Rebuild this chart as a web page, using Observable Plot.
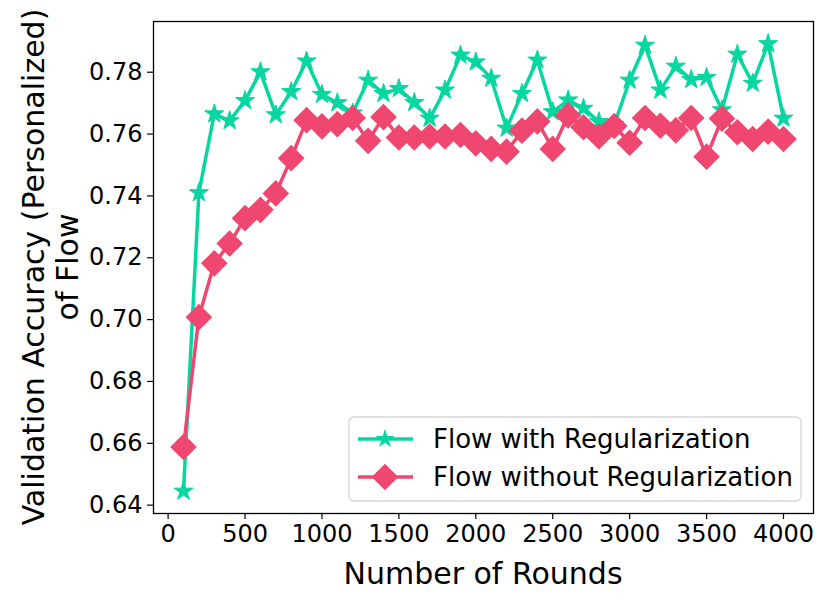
<!DOCTYPE html>
<html>
<head>
<meta charset="utf-8">
<script src="https://cdn.jsdelivr.net/npm/d3@7"></script>
<script src="https://cdn.jsdelivr.net/npm/@observablehq/plot@0.6"></script>
<style>
  html, body { margin: 0; padding: 0; background: white; }
  #chart { width: 830px; height: 602px; }
</style>
</head>
<body>
<div id="chart"></div>
<script>
const rounds = [100, 200, 300, 400, 500, 600, 700, 800, 900, 1000,
  1100, 1200, 1300, 1400, 1500, 1600, 1700, 1800, 1900, 2000,
  2100, 2200, 2300, 2400, 2500, 2600, 2700, 2800, 2900, 3000,
  3100, 3200, 3300, 3400, 3500, 3600, 3700, 3800, 3900, 4000];
const withReg = [0.6445, 0.7410, 0.7665, 0.7643, 0.7708, 0.7801, 0.7662, 0.7737, 0.7836, 0.7728,
  0.7701, 0.7668, 0.7774, 0.7731, 0.7747, 0.7702, 0.7651, 0.7742, 0.7855, 0.7833,
  0.7780, 0.7619, 0.7731, 0.7839, 0.7672, 0.7710, 0.7683, 0.7640, 0.7630, 0.7774,
  0.7887, 0.7742, 0.7819, 0.7776, 0.7783, 0.7678, 0.7858, 0.7764, 0.7892, 0.7651];
const withoutReg = [0.6588, 0.7008, 0.7182, 0.7246, 0.7328, 0.7355, 0.7408, 0.7522, 0.7645, 0.7625,
  0.7632, 0.7652, 0.7578, 0.7655, 0.7589, 0.7589, 0.7592, 0.7592, 0.7597, 0.7570,
  0.7552, 0.7543, 0.7611, 0.7641, 0.7552, 0.7660, 0.7622, 0.7592, 0.7626, 0.7572,
  0.7652, 0.7627, 0.7612, 0.7652, 0.7527, 0.7650, 0.7606, 0.7584, 0.7608, 0.7584];
const seriesNames = ["Flow with Regularization", "Flow without Regularization"];
const seriesColors = ["#06D6A0", "#EF476F"];
const xTicks = [0, 500, 1000, 1500, 2000, 2500, 3000, 3500, 4000];
const yTicks = [0.64, 0.66, 0.68, 0.70, 0.72, 0.74, 0.76, 0.78];
const xTitle = "Number of Rounds";
const yTitleLines = ["Validation Accuracy (Personalized)", "of Flow"];

const rowsA = rounds.map((r, i) => ({round: r, acc: withReg[i]}));
const rowsB = rounds.map((r, i) => ({round: r, acc: withoutReg[i]}));

const starR = 6, diamondR = 12;
const font = "'DejaVu Sans', sans-serif";

const chart = Plot.plot({
  width: 830,
  height: 602,
  marginLeft: 153,
  marginRight: 17,
  marginTop: 21,
  marginBottom: 89,
  style: {fontFamily: font, fontSize: "24px", color: "black", background: "white", overflow: "visible"},
  x: {domain: [-95, 4195], label: null},
  y: {domain: [0.6373, 0.7964], label: null},
  marks: [
    Plot.axisX({ticks: xTicks, tickSize: 6, tickPadding: 5, tickFormat: d => String(d), label: null, strokeWidth: 1.2}),
    Plot.axisY({ticks: yTicks, tickSize: 6, tickPadding: 5, tickFormat: d => d.toFixed(2), label: null, strokeWidth: 1.2}),
    Plot.line(rowsA, {x: "round", y: "acc", stroke: seriesColors[0], strokeWidth: 3.5}),
    Plot.dot(rowsA, {x: "round", y: "acc", symbol: "star", r: starR, fill: seriesColors[0], stroke: seriesColors[0], strokeWidth: 1}),
    Plot.line(rowsB, {x: "round", y: "acc", stroke: seriesColors[1], strokeWidth: 3.5}),
    Plot.dot(rowsB, {x: "round", y: "acc", symbol: "diamond2", r: diamondR, fill: seriesColors[1]}),
    Plot.frame({stroke: "black", strokeWidth: 1.3})
  ]
});

document.getElementById("chart").appendChild(chart);

const svg = d3.select(chart);

// axis titles
svg.append("text")
  .attr("x", 483).attr("y", 584)
  .attr("text-anchor", "middle")
  .attr("font-family", font).attr("font-size", 30).attr("fill", "black")
  .text(xTitle);

const yT = svg.append("g").attr("transform", "translate(0,267)");
yT.append("text")
  .attr("transform", "translate(44,0) rotate(-90)")
  .attr("text-anchor", "middle")
  .attr("font-family", font).attr("font-size", 30).attr("fill", "black")
  .text(yTitleLines[0]);
yT.append("text")
  .attr("transform", "translate(78,0) rotate(-90)")
  .attr("text-anchor", "middle")
  .attr("font-family", font).attr("font-size", 30).attr("fill", "black")
  .text(yTitleLines[1]);

// legend
const lg = svg.append("g");
lg.append("rect")
  .attr("x", 349).attr("y", 417).attr("width", 452).attr("height", 84)
  .attr("rx", 5).attr("fill", "white").attr("fill-opacity", 0.85)
  .attr("stroke", "#d6d6d6").attr("stroke-width", 1.3);
const symbols = [d3.symbolStar, d3.symbolDiamond2];
const radii = [starR, diamondR];
seriesNames.forEach((name, i) => {
  const cy = 439 + i * 38;
  lg.append("line").attr("x1", 358).attr("x2", 413).attr("y1", cy).attr("y2", cy)
    .attr("stroke", seriesColors[i]).attr("stroke-width", 3.5);
  lg.append("path")
    .attr("d", d3.symbol(symbols[i], Math.PI * radii[i] * radii[i])())
    .attr("transform", `translate(385,${cy})`)
    .attr("fill", seriesColors[i]);
  lg.append("text")
    .attr("x", 433).attr("y", cy + 9)
    .attr("text-anchor", "start")
    .attr("font-family", font).attr("font-size", 26).attr("fill", "black")
    .text(name);
});
</script>
</body>
</html>
